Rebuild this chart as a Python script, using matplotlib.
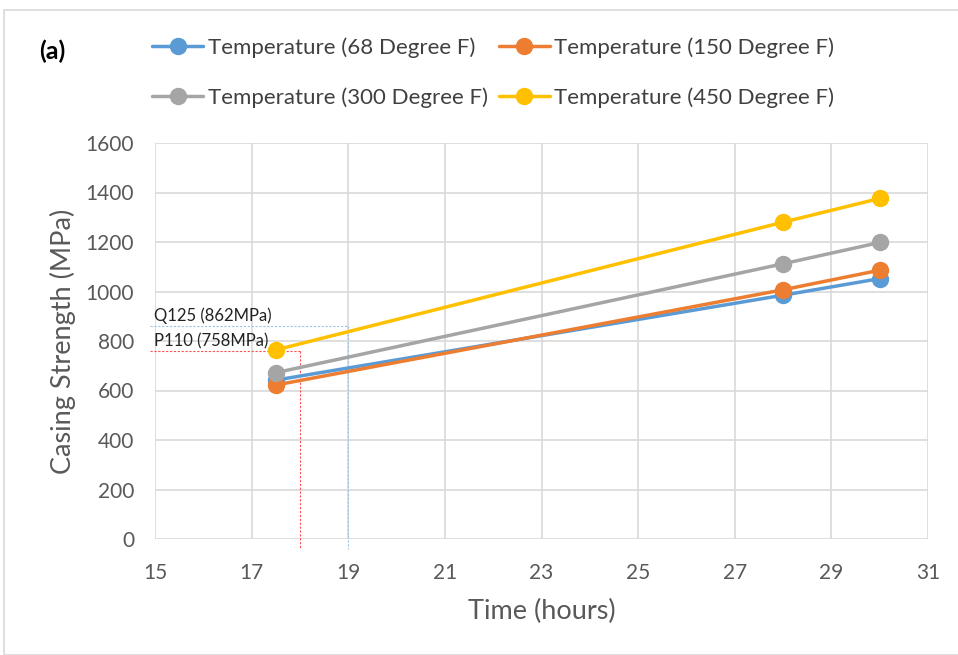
import matplotlib.pyplot as plt
from matplotlib.patches import Rectangle

plt.rcParams['font.family'] = ['Lato', 'DejaVu Sans']

hours = [17.5, 28, 30]
t68 = [642, 985, 1052]
t150 = [622, 1007, 1086]
t300 = [672, 1112, 1198]
t450 = [764, 1280, 1376]

series = [
    ('Temperature (68 Degree F)', t68, '#5B9BD5'),
    ('Temperature (150 Degree F)', t150, '#ED7D31'),
    ('Temperature (300 Degree F)', t300, '#A5A5A5'),
    ('Temperature (450 Degree F)', t450, '#FFC000'),
]

# casing grade limits: (label, strength, time where the guide drops)
grades = [
    ('Q125 (862MPa)', 862, 19, '#9DC3E6'),
    ('P110 (758MPa)', 758, 18, '#FF5050'),
]

fig = plt.figure(figsize=(9.58, 6.55), dpi=100)
ax = fig.add_axes([155 / 958, 1 - 539 / 655, 773 / 958, 396 / 655])

handles = {}
for name, vals, col in series:
    h, = ax.plot(hours, vals, color=col, lw=2.5, marker='o', ms=11.5,
                 solid_capstyle='round', zorder=3, label=name)
    handles[name] = h

for text, val, t, col in grades:
    ax.plot([14.9, t], [val, val], color=col, lw=0.8, ls=(0, (2, 1.5)),
            zorder=2, clip_on=False)
    ax.plot([t, t], [val, -40], color=col, lw=0.8, ls=(0, (2, 1.5)),
            zorder=2, clip_on=False)
    ax.text(14.97, val + 6, text, fontsize=12, color='#222222',
            ha='left', va='bottom', zorder=4)

ax.set_xlim(15, 31)
ax.set_ylim(0, 1600)
ax.set_xticks(range(15, 32, 2))
ax.set_yticks(range(0, 1601, 200))
ax.grid(True, color='#D9D9D9', lw=1.2)
ax.set_axisbelow(True)
for s in ax.spines.values():
    s.set_visible(False)
ax.tick_params(length=0, labelsize=15, colors='#595959')
ax.tick_params(axis='y', pad=15)
ax.tick_params(axis='x', pad=17)
ax.set_xlabel('Time (hours)', fontsize=19.5, color='#595959', labelpad=12)
ax.set_ylabel('Casing Strength (MPa)', fontsize=19.5, color='#595959',
              labelpad=7)

order = ['Temperature (68 Degree F)', 'Temperature (300 Degree F)',
         'Temperature (150 Degree F)', 'Temperature (450 Degree F)']
fig.legend([handles[k] for k in order], order, ncol=2, frameon=False,
           loc='upper left', bbox_to_anchor=(152 / 958, 1 - 37 / 655),
           fontsize=16, labelcolor='#404040', handlelength=2.3,
           handletextpad=0.2, columnspacing=0.5, labelspacing=1.35,
           borderaxespad=0, borderpad=0)

fig.text(39 / 958, 1 - 51 / 655, '(a)', fontsize=18, fontweight='bold',
         va='center', ha='left')

fig.patches.append(Rectangle((4 / 958, 0), 1, 1 - 10 / 655,
                             transform=fig.transFigure, fill=False,
                             ec='#D9D9D9', lw=1.2))

fig.savefig('out.png', dpi=100)
